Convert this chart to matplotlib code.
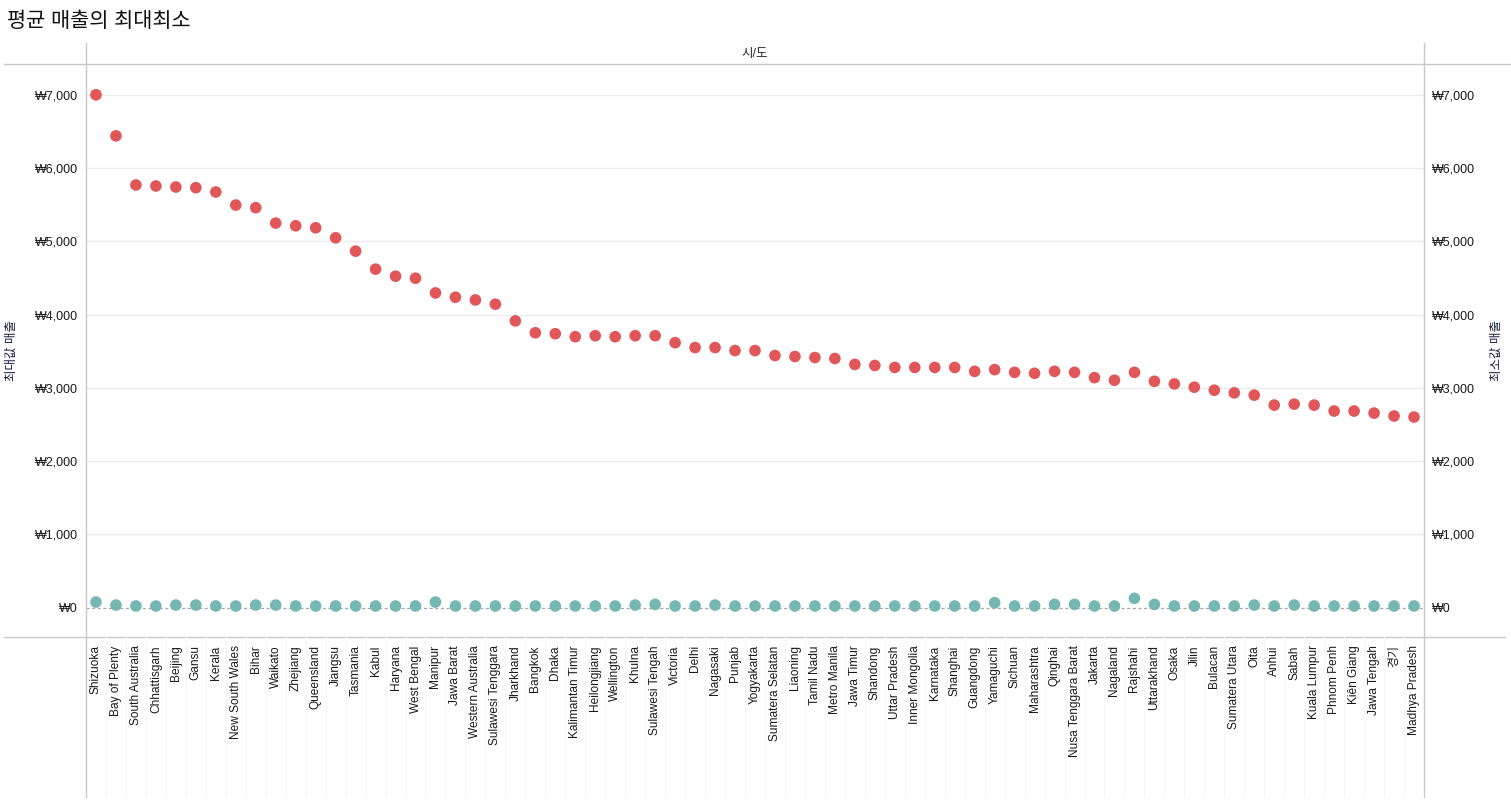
import matplotlib
matplotlib.use("Agg")
import matplotlib.pyplot as plt
from matplotlib.lines import Line2D
from matplotlib.ticker import FuncFormatter, FixedLocator

categories = [
    "Shizuoka", "Bay of Plenty", "South Australia", "Chhattisgarh", "Beijing", "Gansu",
    "Kerala", "New South Wales", "Bihar", "Waikato", "Zhejiang", "Queensland", "Jiangsu",
    "Tasmania", "Kabul", "Haryana", "West Bengal", "Manipur", "Jawa Barat",
    "Western Australia", "Sulawesi Tenggara", "Jharkhand", "Bangkok", "Dhaka",
    "Kalimantan Timur", "Heilongjiang", "Wellington", "Khulna", "Sulawesi Tengah",
    "Victoria", "Delhi", "Nagasaki", "Punjab", "Yogyakarta", "Sumatera Selatan",
    "Liaoning", "Tamil Nadu", "Metro Manila", "Jawa Timur", "Shandong", "Uttar Pradesh",
    "Inner Mongolia", "Karnataka", "Shanghai", "Guangdong", "Yamaguchi", "Sichuan",
    "Maharashtra", "Qinghai", "Nusa Tenggara Barat", "Jakarta", "Nagaland", "Rajshahi",
    "Uttarakhand", "Osaka", "Jilin", "Bulacan", "Sumatera Utara", "Oita", "Anhui",
    "Sabah", "Kuala Lumpur", "Phnom Penh", "Kiên Giang", "Jawa Tengah", "경기",
    "Madhya Pradesh",
]

max_sales = [
    7000, 6439, 5769, 5755, 5741, 5732, 5673, 5495, 5459, 5249, 5212, 5185, 5048,
    4866, 4620, 4524, 4497, 4296, 4237, 4200, 4142, 3914, 3752, 3739, 3698, 3712,
    3698, 3712, 3712, 3617, 3550, 3550, 3509, 3509, 3441, 3428, 3414, 3401, 3320,
    3306, 3279, 3279, 3279, 3279, 3225, 3249, 3212, 3199, 3226, 3212, 3140, 3104,
    3212, 3090, 3054, 3009, 2968, 2932, 2901, 2765, 2778, 2765, 2684, 2684, 2656,
    2616, 2602,
]

min_sales = [
    77, 36, 23, 23, 36, 36, 23, 23, 36, 36, 23, 23, 23, 23, 23, 23, 23, 77, 23,
    23, 23, 23, 23, 23, 23, 23, 23, 36, 45, 23, 23, 36, 23, 23, 23, 23, 23, 23,
    23, 23, 23, 23, 23, 23, 23, 68, 23, 23, 45, 45, 23, 23, 128, 45, 23, 23, 23,
    23, 36, 23, 36, 23, 23, 23, 23, 23, 23,
]

y_ticks = [0, 1000, 2000, 3000, 4000, 5000, 6000, 7000]

title = "평균 매출의 최대최소"
header = "시/도"
left_label = "최대값 매출"
right_label = "최소값 매출"

FONT = ["Liberation Sans", "Noto Sans CJK KR", "DejaVu Sans"]
plt.rcParams["font.family"] = FONT

W, H = 1511, 800
fig = plt.figure(figsize=(W / 100, H / 100), dpi=100)

L, R, T, B = 86, 1424, 64, 637
ax = fig.add_axes([L / W, 1 - B / H, (R - L) / W, (B - T) / H])
ax2 = ax.twinx()

n = len(categories)
xs = list(range(n))
ylim = (-400, 7420)

ax.set_xlim(-0.5, n - 0.5)
for a in (ax, ax2):
    a.set_ylim(*ylim)
    for s in a.spines.values():
        s.set_visible(False)
    a.yaxis.set_major_locator(FixedLocator(y_ticks))
    a.yaxis.set_major_formatter(FuncFormatter(lambda v, p: "₩{:,.0f}".format(v)))
    a.tick_params(axis="y", length=0, labelsize=9, colors="#1a1a1a", pad=6)

ax.set_facecolor("white")
for t in y_ticks[1:]:
    ax.axhline(t, color="#ececec", lw=0.9, zorder=0)
ax.axhline(0, color="#a8a8a8", lw=0.9, ls=(0, (2.5, 2)), zorder=1)

ax.scatter(xs, max_sales, s=70, color="#E15759", edgecolors="none", zorder=3)
ax.scatter(xs, min_sales, s=70, color="#76B7B2", edgecolors="none", zorder=3)

ax.set_xticks(xs)
ax.set_xticklabels(categories, rotation=90, fontsize=8.6, color="#1a1a1a",
                   va="top", ha="center")
ax.tick_params(axis="x", length=0, pad=6)

ax.set_ylabel(left_label, fontsize=9, color="#1a2040")
ax.yaxis.set_label_coords((18 - L) / (R - L), 0.5)
ax2.set_ylabel(right_label, fontsize=9, color="#1a2040", rotation=90)
ax2.yaxis.set_label_coords((1491 - L) / (R - L), 0.5)

# frame lines in figure coordinates
line_col = "#c8c8c8"
def fx(px):
    return px / W
def fy(py):
    return 1 - py / H

fig.add_artist(Line2D([fx(4), fx(W)], [fy(T), fy(T)], color=line_col, lw=1.0))
fig.add_artist(Line2D([fx(4), fx(1505)], [fy(B), fy(B)], color=line_col, lw=1.0))
fig.add_artist(Line2D([fx(L), fx(L)], [fy(43), fy(797)], color=line_col, lw=1.0))
fig.add_artist(Line2D([fx(R), fx(R)], [fy(43), fy(797)], color=line_col, lw=1.0))

# faint category dividers in the header area
for i in range(1, n):
    xp = L + (R - L) * i / n
    fig.add_artist(Line2D([fx(xp), fx(xp)], [fy(B), fy(797)], color="#f6f6f6", lw=0.8))

fig.text(fx(7), fy(21), title, fontsize=15, color="#111111", va="center", ha="left")
fig.text(fx((L + R) / 2), fy(54), header, fontsize=9, color="#222222",
         va="center", ha="center")

fig.savefig("out.png", dpi=100, facecolor="white")
